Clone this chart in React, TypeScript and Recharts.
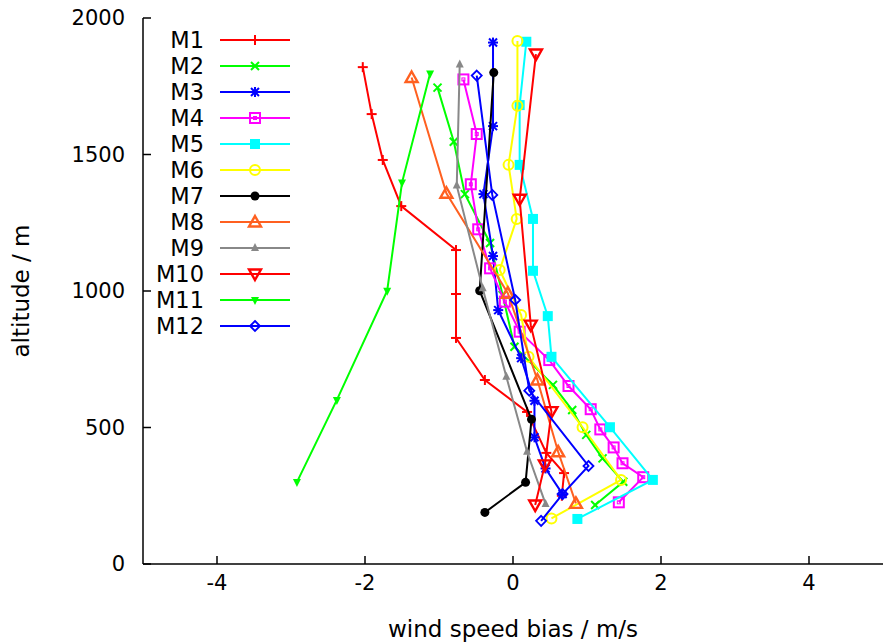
import { ScatterChart, Scatter, XAxis, YAxis, Legend } from 'recharts'

// altitude (m) and wind speed bias (m/s) per model
const m1Alt = [1820, 1648, 1480, 1311, 1150, 989, 828, 674, 557, 407, 333, 250]
const m1Bias = [-2.03, -1.91, -1.76, -1.51, -0.77, -0.77, -0.77, -0.38, 0.19, 0.45, 0.69, 0.66]
const m2Alt = [1745, 1547, 1355, 1176, 985, 796, 656, 564, 473, 387, 301, 216]
const m2Bias = [-1.02, -0.8, -0.65, -0.31, -0.14, 0.02, 0.54, 0.8, 0.99, 1.21, 1.49, 1.11]
const m3Alt = [1910, 1604, 1355, 1128, 930, 754, 598, 464, 350, 256]
const m3Bias = [-0.27, -0.27, -0.4, -0.27, -0.2, 0.11, 0.29, 0.29, 0.44, 0.67]
const m4Alt = [1775, 1575, 1391, 1226, 1083, 961, 851, 747, 652, 567, 493, 427, 369, 318, 226]
const m4Bias = [-0.67, -0.49, -0.57, -0.47, -0.31, -0.11, 0.09, 0.49, 0.75, 1.05, 1.18, 1.36, 1.48, 1.76, 1.43]
const m5Alt = [1913, 1681, 1462, 1264, 1074, 908, 759, 501, 308, 165]
const m5Bias = [0.18, 0.09, 0.09, 0.27, 0.27, 0.47, 0.52, 1.31, 1.89, 0.87]
const m6Alt = [1916, 1679, 1462, 1264, 1077, 912, 759, 501, 308, 167]
const m6Bias = [0.06, 0.06, -0.06, 0.05, -0.18, 0.11, 0.21, 0.94, 1.46, 0.52]
const m7Alt = [1800, 1001, 530, 299, 189]
const m7Bias = [-0.26, -0.45, 0.25, 0.17, -0.38]
const m8Alt = [1782, 1358, 992, 674, 411, 222]
const m8Bias = [-1.37, -0.9, -0.07, 0.33, 0.61, 0.85]
const m9Alt = [1830, 1386, 1010, 686, 411, 220]
const m9Bias = [-0.72, -0.76, -0.41, -0.09, 0.19, 0.44]
const m10Alt = [1868, 1336, 875, 558, 363, 216]
const m10Bias = [0.31, 0.09, 0.24, 0.52, 0.43, 0.3]
const m11Alt = [1797, 1397, 1001, 601, 300]
const m11Bias = [-1.12, -1.5, -1.7, -2.38, -2.92]
const m12Alt = [1789, 1352, 967, 635, 359, 256, 158]
const m12Bias = [-0.49, -0.28, 0.03, 0.22, 1.02, 0.67, 0.38]

const xTicks = [-4, -2, 0, 2, 4]
const yTicks = [0, 500, 1000, 1500, 2000]

const toPoints = (alt: number[], bias: number[]) => alt.map((y, i) => ({ x: bias[i], y }))

const series = [
  { name: 'M1', color: '#ff0000', marker: 'plus', data: toPoints(m1Alt, m1Bias) },
  { name: 'M2', color: '#00ff00', marker: 'cross', data: toPoints(m2Alt, m2Bias) },
  { name: 'M3', color: '#0000ff', marker: 'star', data: toPoints(m3Alt, m3Bias) },
  { name: 'M4', color: '#ff00ff', marker: 'openSquare', data: toPoints(m4Alt, m4Bias) },
  { name: 'M5', color: '#00ffff', marker: 'square', data: toPoints(m5Alt, m5Bias) },
  { name: 'M6', color: '#ffff00', marker: 'openCircle', data: toPoints(m6Alt, m6Bias) },
  { name: 'M7', color: '#000000', marker: 'circle', data: toPoints(m7Alt, m7Bias) },
  { name: 'M8', color: '#ff6020', marker: 'openTri', data: toPoints(m8Alt, m8Bias) },
  { name: 'M9', color: '#888888', marker: 'tri', data: toPoints(m9Alt, m9Bias) },
  { name: 'M10', color: '#ff0000', marker: 'openTriDown', data: toPoints(m10Alt, m10Bias) },
  { name: 'M11', color: '#00ff00', marker: 'triDown', data: toPoints(m11Alt, m11Bias) },
  { name: 'M12', color: '#0000ff', marker: 'openDiamond', data: toPoints(m12Alt, m12Bias) },
]

const FONT = 'DejaVu Sans'

function Marker({ kind, cx, cy, color }: { kind: string; cx: number; cy: number; color: string }) {
  const sw = 2
  switch (kind) {
    case 'plus':
      return (
        <g stroke={color} strokeWidth={sw}>
          <line x1={cx - 5} x2={cx + 5} y1={cy} y2={cy} />
          <line x1={cx} x2={cx} y1={cy - 5} y2={cy + 5} />
        </g>
      )
    case 'cross':
      return (
        <g stroke={color} strokeWidth={sw}>
          <line x1={cx - 4} x2={cx + 4} y1={cy - 4} y2={cy + 4} />
          <line x1={cx - 4} x2={cx + 4} y1={cy + 4} y2={cy - 4} />
        </g>
      )
    case 'star':
      return (
        <g stroke={color} strokeWidth={sw}>
          <line x1={cx - 5} x2={cx + 5} y1={cy} y2={cy} />
          <line x1={cx} x2={cx} y1={cy - 5} y2={cy + 5} />
          <line x1={cx - 4} x2={cx + 4} y1={cy - 4} y2={cy + 4} />
          <line x1={cx - 4} x2={cx + 4} y1={cy + 4} y2={cy - 4} />
        </g>
      )
    case 'openSquare':
      return (
        <g stroke={color} fill="none">
          <rect x={cx - 5} y={cy - 5} width={10} height={10} strokeWidth={sw} />
          <rect x={cx - 1.5} y={cy - 1.5} width={3} height={3} strokeWidth={1} />
        </g>
      )
    case 'square':
      return <rect x={cx - 5} y={cy - 5} width={10} height={10} fill={color} />
    case 'openCircle':
      return <circle cx={cx} cy={cy} r={5} fill="none" stroke={color} strokeWidth={sw} />
    case 'circle':
      return <circle cx={cx} cy={cy} r={4.5} fill={color} />
    case 'openTri':
      return <polygon points={`${cx},${cy - 6} ${cx + 6},${cy + 4.5} ${cx - 6},${cy + 4.5}`} fill="none" stroke={color} strokeWidth={2.4} />
    case 'tri':
      return <polygon points={`${cx},${cy - 5} ${cx + 4},${cy + 3} ${cx - 4},${cy + 3}`} fill={color} />
    case 'openTriDown':
      return <polygon points={`${cx},${cy + 6} ${cx + 6},${cy - 4.5} ${cx - 6},${cy - 4.5}`} fill="none" stroke={color} strokeWidth={2.4} />
    case 'triDown':
      return <polygon points={`${cx},${cy + 5} ${cx + 4},${cy - 3} ${cx - 4},${cy - 3}`} fill={color} />
    case 'openDiamond':
      return <polygon points={`${cx},${cy - 5} ${cx + 5},${cy} ${cx},${cy + 5} ${cx - 5},${cy}`} fill="none" stroke={color} strokeWidth={1.8} />
    default:
      return null
  }
}

const renderLegend = () => (
  <svg width={160} height={320}>
    {series.map((s, i) => {
      const y = 14 + i * 26
      return (
        <g key={s.name}>
          <text x={54} y={y} textAnchor="end" dominantBaseline="central" fontSize={22.5} fontFamily={FONT} fill="#000">
            {s.name}
          </text>
          <line x1={70} x2={140} y1={y} y2={y} stroke={s.color} strokeWidth={2} />
          <Marker kind={s.marker} cx={105} cy={y} color={s.color} />
        </g>
      )
    })}
  </svg>
)

const tickStyle = { fontSize: 21, fill: '#000', fontFamily: FONT }
const axisLine = { stroke: '#000', strokeWidth: 1.5 }

export default function App() {
  return (
    <div style={{ position: 'absolute', left: 0, top: 0, width: 883, height: 643, background: '#fff' }}>
      <ScatterChart width={883} height={643} margin={{ top: 18, right: 0, bottom: 0, left: 0 }}>
        <XAxis
          type="number"
          dataKey="x"
          domain={[-5, 5]}
          ticks={xTicks}
          height={79}
          tick={tickStyle}
          tickSize={-8}
          tickMargin={19}
          axisLine={axisLine}
          tickLine={axisLine}
          label={{ value: 'wind speed bias / m/s', position: 'insideBottom', offset: 6, style: { fontSize: 23, fill: '#000', fontFamily: FONT } }}
        />
        <XAxis
          xAxisId="top"
          orientation="top"
          type="number"
          domain={[-5, 5]}
          ticks={xTicks}
          height={0}
          tick={false}
          tickSize={-8}
          axisLine={axisLine}
          tickLine={axisLine}
        />
        <YAxis
          type="number"
          dataKey="y"
          domain={[0, 2000]}
          ticks={yTicks}
          width={143}
          tick={tickStyle}
          tickSize={-8}
          tickMargin={26}
          axisLine={axisLine}
          tickLine={axisLine}
          label={{ value: 'altitude / m', angle: -90, position: 'insideLeft', offset: 21, style: { textAnchor: 'middle', fontSize: 23, fill: '#000', fontFamily: FONT } }}
        />
        <YAxis
          yAxisId="right"
          orientation="right"
          type="number"
          domain={[0, 2000]}
          ticks={yTicks}
          width={0}
          tick={false}
          tickSize={-8}
          axisLine={axisLine}
          tickLine={axisLine}
        />
        <Legend
          layout="vertical"
          align="center"
          verticalAlign="middle"
          wrapperStyle={{ left: 150, top: 26 }}
          content={renderLegend}
        />
        {series.map((s) => (
          <Scatter
            key={s.name}
            name={s.name}
            data={s.data}
            fill={s.color}
            line={{ stroke: s.color, strokeWidth: 2 }}
            isAnimationActive={false}
            shape={(p: any) => <Marker kind={s.marker} cx={p.cx} cy={p.cy} color={s.color} />}
          />
        ))}
      </ScatterChart>
    </div>
  )
}
